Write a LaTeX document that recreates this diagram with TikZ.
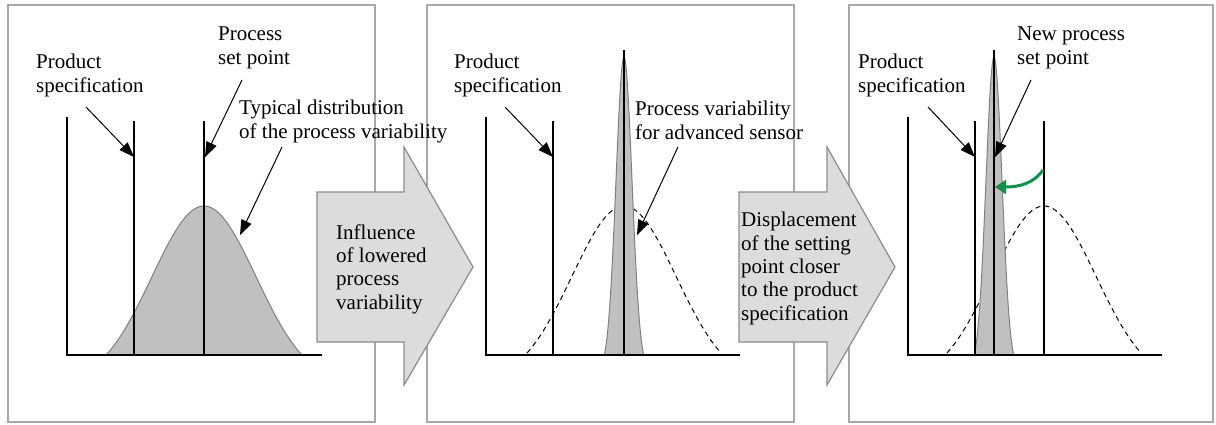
\documentclass[tikz,border=0pt]{standalone}
\usepackage{fontspec}
\setmainfont{Liberation Serif}
\usetikzlibrary{arrows.meta}
\definecolor{framegray}{HTML}{A8A8A8}
\definecolor{bellgray}{HTML}{C0C0C0}
\definecolor{bellline}{HTML}{808080}
\definecolor{arrowfill}{HTML}{DCDCDC}
\definecolor{arrowline}{HTML}{8C8C8C}
\definecolor{movegreen}{HTML}{12914A}
\begin{document}
\begin{tikzpicture}[x=1pt,y=-1pt,
  panel/.style={draw=framegray, line width=2pt},
  axis/.style={line width=1.6pt, draw=black},
  vline/.style={line width=1.3pt, draw=black},
  lbl/.style={anchor=base west, align=left, inner sep=0pt, font=\fontsize{21}{23.3}\selectfont},
  pointer/.style={line width=1pt, -{Triangle[length=15pt,width=11pt]}},
  bell/.style={fill=bellgray, draw=bellline, line width=1pt},
  dashcurve/.style={dash pattern=on 5pt off 4pt, line width=1pt},
  blockarrow/.style={fill=arrowfill, draw=arrowline, line width=1.2pt},
  greenarrow/.style={draw=movegreen, line width=3pt, -{Triangle[length=11pt,width=14pt]}}
]
\useasboundingbox (0,0) rectangle (1216,424);
% panels
\draw[panel] (8,5) rectangle (375,422);
\draw[panel] (427,5) rectangle (794,422);
\draw[panel] (849,5) rectangle (1213,422);

% ---------- panel 1 ----------
\fill[bellgray] plot[domain=-97:97,samples=90] ({204+\x},{354-148*(exp(-(\x)^2/5408)-0.1755)/0.8245}) -- cycle;
\draw[bellline,line width=1pt] plot[domain=-97:97,samples=90] ({204+\x},{354-148*(exp(-(\x)^2/5408)-0.1755)/0.8245});
\draw[axis] (67,117) -- (67,355) -- (322,355);
\draw[vline] (134,121) -- (134,355);
\draw[vline] (204,121) -- (204,355);

% ---------- panel 2 ----------
\draw[dashcurve] plot[domain=-97:97,samples=90] ({624+\x},{353-147*(exp(-(\x)^2/5408)-0.1755)/0.8245});
\fill[bellgray] plot[domain=-19.5:19.5,samples=60] ({624+\x},{354-297*(exp(-(\x)^2/128)-0.0513)/0.9487}) -- cycle;
\draw[bellline,line width=1pt] plot[domain=-19.5:19.5,samples=60] ({624+\x},{354-297*(exp(-(\x)^2/128)-0.0513)/0.9487});
\draw[axis] (486,117) -- (486,355) -- (740,355);
\draw[vline] (553,121) -- (553,355);
\draw[vline] (624,50) -- (624,355);

% ---------- panel 3 ----------
\draw[dashcurve] plot[domain=-97:97,samples=90] ({1044+\x},{353-147*(exp(-(\x)^2/5408)-0.1755)/0.8245});
\fill[bellgray] plot[domain=-19.5:19.5,samples=60] ({994+\x},{354-297*(exp(-(\x)^2/128)-0.0513)/0.9487}) -- cycle;
\draw[bellline,line width=1pt] plot[domain=-19.5:19.5,samples=60] ({994+\x},{354-297*(exp(-(\x)^2/128)-0.0513)/0.9487});
\draw[axis] (908,117) -- (908,355) -- (1162,355);
\draw[vline] (975,121) -- (975,355);
\draw[vline] (994,50) -- (994,355);
\draw[vline] (1044,121) -- (1044,355);

% ---------- block arrows ----------
\draw[blockarrow] (317,192) -- (404,192) -- (404,147) -- (473,267) -- (404,385) -- (404,342) -- (317,342) -- cycle;
\draw[blockarrow] (739,192) -- (827,192) -- (827,147) -- (895,267) -- (827,385) -- (827,342) -- (739,342) -- cycle;

% ---------- labels (anchor = baseline of last line) ----------
\node[lbl] (spec1) at (36,92) {Product\\specification};
\node[lbl] (set1) at (218,64) {Process\\set point};
\node[lbl] (dist1) at (239,138) {Typical distribution\\of the process variability};
\node[lbl] (spec2) at (454,92) {Product\\specification};
\node[lbl] (var2) at (635,139) {Process variability\\for advanced sensor};
\node[lbl] (spec3) at (858,92) {Product\\specification};
\node[lbl] (new3) at (1017,64) {New process\\set point};
\node[lbl] (infl) at (336,309) {Influence\\of lowered\\process\\variability};
\node[lbl] (disp) at (741,320) {Displacement\\of the setting\\point closer\\to the product\\specification};

% ---------- pointer coordinates ----------
\coordinate (s1a) at (86,107);   \coordinate (s1b) at (134,157);
\coordinate (p1a) at (242,80);   \coordinate (p1b) at (205,157);
\coordinate (d1a) at (282,147);  \coordinate (d1b) at (240,235);
\coordinate (s2a) at (505,107);  \coordinate (s2b) at (553,157);
\coordinate (v2a) at (678,147);  \coordinate (v2b) at (637,235);
\coordinate (s3a) at (928,107);  \coordinate (s3b) at (975,157);
\coordinate (n3a) at (1031,80);  \coordinate (n3b) at (995,157);
\coordinate (g3a) at (1043,170); \coordinate (g3b) at (995,187);

\draw[pointer] (s1a) -- (s1b);
\draw[pointer] (p1a) -- (p1b);
\draw[pointer] (d1a) -- (d1b);
\draw[pointer] (s2a) -- (s2b);
\draw[pointer] (v2a) -- (v2b);
\draw[pointer] (s3a) -- (s3b);
\draw[pointer] (n3a) -- (n3b);
\draw[greenarrow] (g3a) .. controls (1034,183) and (1020,187) .. (g3b);
\end{tikzpicture}
\end{document}
